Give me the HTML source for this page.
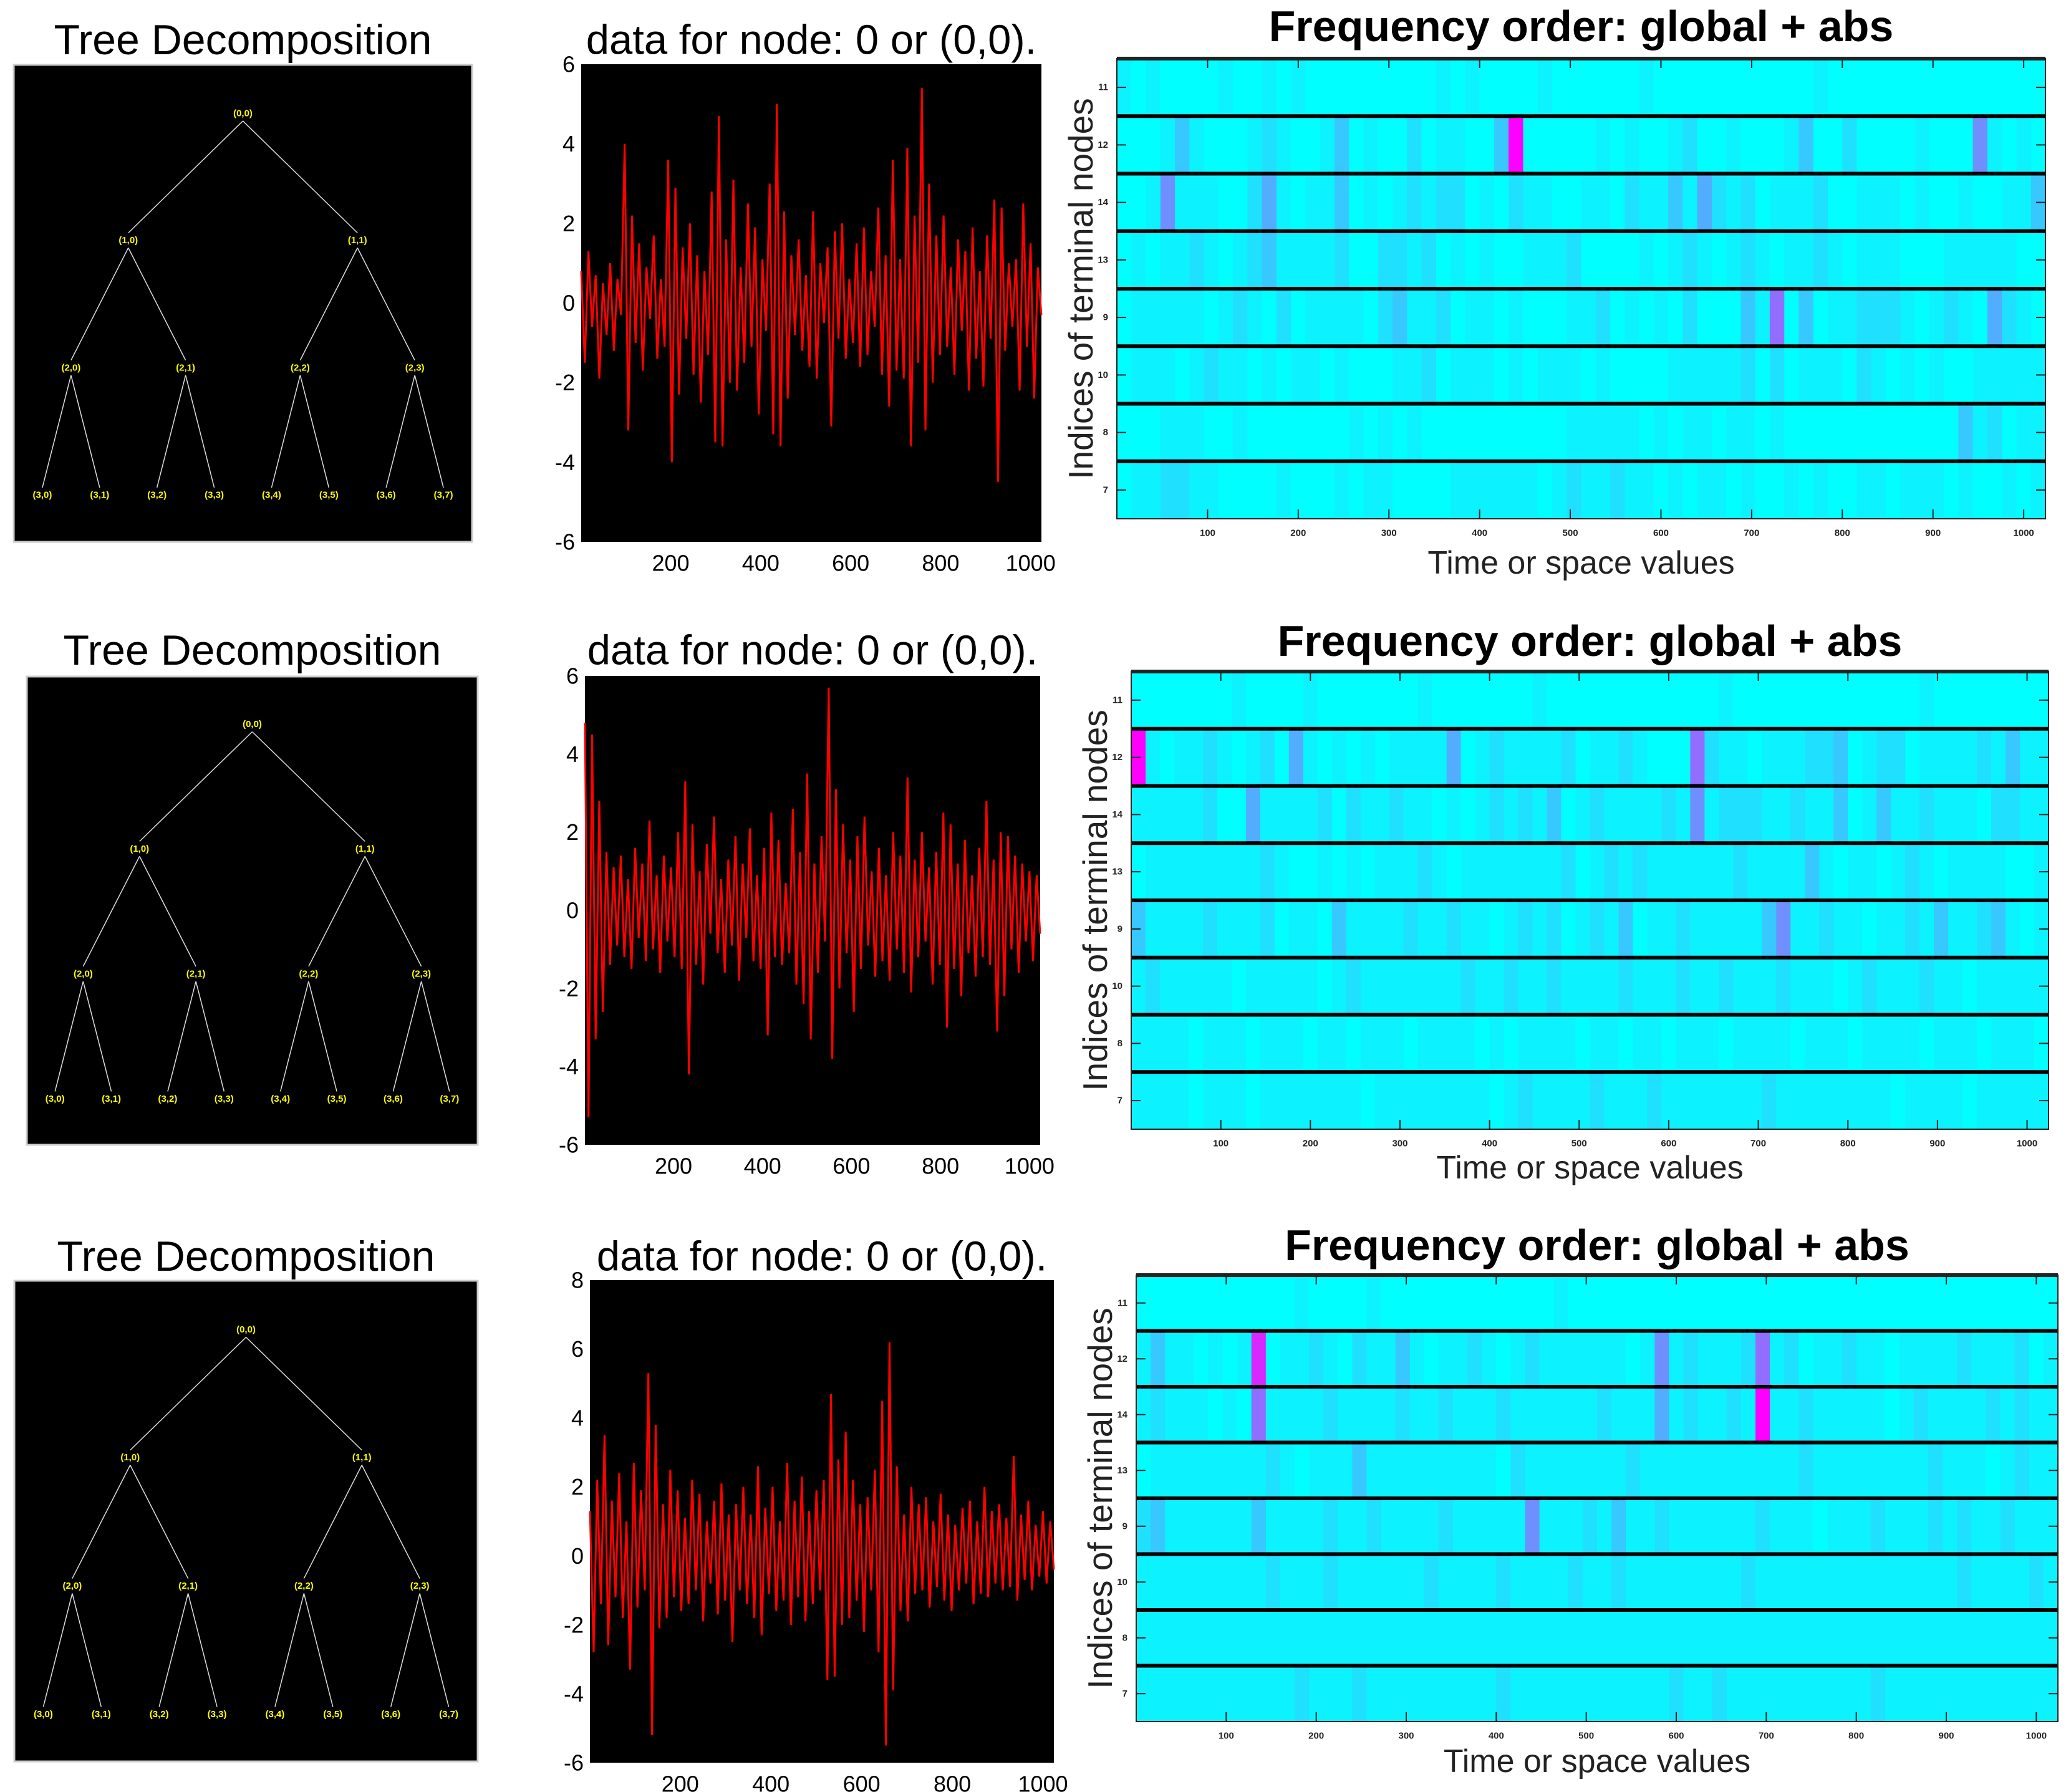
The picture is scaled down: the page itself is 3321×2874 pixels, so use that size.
<!DOCTYPE html>
<html><head><meta charset="utf-8"><style>
html,body{margin:0;padding:0;background:#fff;}
svg{display:block;font-family:"Liberation Sans",Arial,sans-serif;}
</style></head><body>
<svg id="root" width="3321" height="2874" viewBox="0 0 3321 2874" xmlns="http://www.w3.org/2000/svg"></svg>
<script>
// ---- data ----
const treeLevels = [["(0,0)"],["(1,0)","(1,1)"],["(2,0)","(2,1)","(2,2)","(2,3)"],["(3,0)","(3,1)","(3,2)","(3,3)","(3,4)","(3,5)","(3,6)","(3,7)"]];
const signalXTicks = [200,400,600,800,1000];
const signal1YTicks = [-6,-4,-2,0,2,4,6];
const signal3YTicks = [-6,-4,-2,0,2,4,6,8];
const signal1 = [0.8,-1.5,1.3,-0.6,0.7,-1.9,0.5,-0.8,1.0,-1.2,0.6,-0.3,4.0,-3.2,2.2,-1.0,1.5,-1.7,0.9,-0.4,1.7,-1.4,0.6,-1.1,3.6,-4.0,2.9,-2.3,1.4,-0.9,2.0,-1.8,1.2,-2.5,0.8,-1.3,2.8,-3.5,4.7,-3.6,1.6,-2.0,3.1,-2.2,0.9,-1.5,2.5,-1.1,1.9,-2.8,1.1,-0.7,3.0,-3.3,5.0,-3.6,2.3,-2.4,1.2,-0.8,1.6,-1.2,0.7,-1.6,2.3,-1.9,1.0,-0.5,1.4,-3.1,1.8,-0.9,2.0,-1.4,0.6,-1.0,1.5,-1.6,1.9,-1.3,0.8,-0.6,2.4,-1.8,1.2,-2.6,3.6,-1.7,1.1,-1.9,3.9,-3.6,2.2,-1.5,5.4,-3.2,3.0,-2.0,1.7,-1.3,2.2,-1.1,0.9,-1.8,1.6,-0.7,1.3,-2.2,1.9,-1.4,0.8,-2.1,1.7,-0.9,2.6,-4.5,2.4,-1.2,1.0,-0.6,1.1,-2.2,2.5,-1.1,1.5,-2.4,0.9,-0.3];
const signal2 = [4.8,-5.3,4.5,-3.3,2.8,-2.6,1.5,-1.4,1.1,-0.9,1.4,-1.2,0.8,-1.5,1.6,-0.7,1.2,-1.3,2.3,-1.0,0.9,-1.6,1.4,-0.8,1.1,-1.2,2.0,-1.5,3.3,-4.2,2.2,-1.4,1.0,-1.9,1.7,-0.6,2.4,-1.1,0.8,-1.6,1.3,-0.9,1.9,-1.8,1.2,-0.7,2.1,-1.3,0.9,-1.5,1.6,-3.2,2.5,-1.2,1.8,-1.4,0.7,-1.1,2.6,-1.9,1.5,-2.4,3.5,-3.3,1.2,-1.6,1.9,-0.8,5.7,-3.8,3.1,-2.0,2.2,-1.1,1.3,-2.6,1.9,-1.5,2.4,-0.9,1.0,-1.7,1.6,-1.3,0.9,-1.8,2.0,-1.0,1.4,-1.6,3.4,-2.1,1.3,-1.2,2.0,-0.8,1.1,-1.9,1.5,-1.4,2.5,-3.0,2.2,-1.5,1.2,-2.2,1.8,-1.1,0.9,-1.7,1.6,-1.2,2.8,-1.4,1.3,-3.1,2.0,-2.2,1.9,-1.0,1.4,-1.6,1.2,-0.8,1.0,-1.3,0.9,-0.6];
const signal3 = [1.3,-2.8,2.2,-1.4,3.5,-2.6,1.6,-1.2,2.4,-1.8,1.0,-3.3,2.7,-1.5,1.9,-1.0,5.3,-5.2,3.8,-2.1,1.5,-1.8,2.5,-1.2,1.9,-1.6,1.1,-1.4,2.2,-1.0,1.8,-1.9,1.0,-0.8,1.6,-1.7,2.1,-1.3,1.2,-2.5,1.5,-1.0,2.0,-1.4,1.2,-1.8,2.6,-2.3,1.4,-1.1,2.0,-1.6,1.0,-1.3,2.7,-2.0,1.6,-1.2,2.3,-1.9,1.3,-1.4,1.9,-1.0,2.2,-3.6,4.7,-3.5,2.8,-2.0,3.6,-1.8,2.2,-1.3,1.5,-2.2,1.7,-1.0,2.5,-2.8,4.5,-5.5,6.2,-3.9,2.6,-1.6,1.2,-1.9,2.0,-1.1,1.5,-1.0,1.7,-1.5,1.0,-0.9,1.8,-1.3,1.2,-1.6,0.9,-1.0,1.4,-0.8,1.6,-1.4,1.0,-1.1,2.0,-1.2,1.3,-0.8,1.5,-1.0,1.1,-0.9,2.9,-1.3,1.2,-0.7,1.6,-1.0,0.9,-0.6,1.3,-0.8,1.0,-0.4];
const heatRowLabels = ["11","12","14","13","9","10","8","7"];
const heatXTicks = [100,200,300,400,500,600,700,800,900,1000];
const heat1 = [
"1010000100101000000000101000010000001000000000001000000000000000",
"0001310001210013010020110039000001010012001000130020000100051010",
"0015111002410113010121220102110011021131421201112001110100100113",
"0101121012311112002212010100111200001012101210112101110001111100",
"0111110121020111102311201101000112010102000316030112221012104210",
"0111012110101101000112011101011101000011111202011102101010011111",
"0001110010000000101010000000000111110101101101000000000000312011",
"0112211000010001011000011111101211211010110100101001101110100101"];
const heat2 = [
"0000000100001000000010000000100000000000010000000000000100000000",
"9101121012041010101111401211112011210006211011122301220111121311",
"1111120041111202112110101212130121111215122211211301311211102211",
"0111111112100101011121011111112012121111112111131011012101111001",
"3111121112011031111211211012120121301121111135112110112131123101",
"1211111011111012111111121121121111211121121112111012111211011111",
"1111011101110110111011110101111011011011101111011101111011101110",
"1111011101111111011111111012111121112111111121111111101111011111"];
const heat3 = [
"0000000000010000100000000000010000000000000000000000000000000000",
"1311010180112102113101121012111111015121112612011211011112111201",
"1211101061111211112112111211111121114121121911211111012111121211",
"0111111112101113111111111021111111211111111111211111111211101211",
"2311111131111211211112111115111213112111111211101112111212112111",
"1111111112111211111121111211112112111111112111111111111112111121",
"1111111111111111111111111111111111111111111111111111111111111111",
"1111111111121112111111111211111111111211211111111112111111111111"];

// ---- layout ----
const NS = "http://www.w3.org/2000/svg";
const root = document.getElementById('root');
function mk(tag, attrs, parent){const e=document.createElementNS(NS,tag);for(const k in attrs)e.setAttribute(k,attrs[k]);(parent||root).appendChild(e);return e;}
function txt(s, attrs, parent){const e=mk('text',attrs,parent);e.textContent=s;return e;}

const rows = [
 {tree:[22,104,757,869], tt:64, sig:[932,103,1670,869], st:64, sy:[-6,6], syt:signal1YTicks, sdata:signal1, heat:[1791,94,3280,832], ht:42, hx:903, hdata:heat1},
 {tree:[43,1085,766,1836], tt:1043, sig:[938,1084,1668,1836], st:1043, sy:[-6,6], syt:signal1YTicks, sdata:signal2, heat:[1814,1077,3285,1811], ht:1028, hx:1873, hdata:heat2},
 {tree:[23,2054,766,2825], tt:2015, sig:[946,2053,1690,2827], st:2015, sy:[-6,8], syt:signal3YTicks, sdata:signal3, heat:[1822,2045,3300,2761], ht:1997, hx:2825, hdata:heat3}
];

function cool(v){return 'rgb('+Math.round(255*v)+','+Math.round(255*(1-v))+',255)';}

rows.forEach((r,ri)=>{
  // ---------- tree ----------
  const g = mk('g',{});
  
  
  const [tx0,ty0,tx1,ty1]=r.tree, tw=tx1-tx0, th=ty1-ty0;
  const tt = txt('Tree Decomposition',{x:(tx0+tx1)/2,y:r.tt,'text-anchor':'middle','dominant-baseline':'central','font-size':68,fill:'#000'},g);
  
  
  const box = mk('rect',{x:tx0,y:ty0,width:tw,height:th,fill:'#000',stroke:'#ccc','stroke-width':3},g);
  
  
  const ly=[0.102,0.368,0.635,0.902];
  const pos=(d,i)=>[tx0+tw*(i+0.5)/Math.pow(2,d), ty0+th*ly[d]];
  treeLevels.forEach((lv,d)=>{
    lv.forEach((lab,i)=>{
      const [x,y]=pos(d,i);
      if(d<3){
        [0,1].forEach(c=>{
          const [cx,cy]=pos(d+1,2*i+c);
          const ln=mk('line',{x1:x,y1:y+12,x2:cx,y2:cy-12,stroke:'#ddd','stroke-width':1.5},g);
          
          
        });
      }
      const t=txt(lab,{x:x,y:y,'text-anchor':'middle','dominant-baseline':'central','font-size':15,'font-weight':'bold',fill:'#ffff00'},g);
      
      
    });
  });

  // ---------- signal ----------
  const sg = mk('g',{});
  
  
  const [sx0,sy0,sx1,sy1]=r.sig;
  const st=txt('data for node: 0 or (0,0).',{x:(sx0+sx1)/2,y:r.st,'text-anchor':'middle','dominant-baseline':'central','font-size':67,fill:'#000'},sg);
  
  
  const sb=mk('rect',{x:sx0,y:sy0,width:sx1-sx0,height:sy1-sy0,fill:'#000'},sg);
  
  
  const xS=v=>sx0+(v-1)/1023*(sx1-sx0);
  const yS=v=>sy1-(v-r.sy[0])/(r.sy[1]-r.sy[0])*(sy1-sy0);
  r.syt.forEach(v=>{
    const t=txt(String(v),{x:sx0-10,y:yS(v),'text-anchor':'end','dominant-baseline':'central','font-size':36,fill:'#000'},sg);
    
    
  });
  signalXTicks.forEach(v=>{
    const t=txt(String(v),{x:xS(v),y:sy1+34,'text-anchor':'middle','dominant-baseline':'central','font-size':36,fill:'#000'},sg);
    
    
  });
  const n=r.sdata.length;
  const pts=r.sdata.map((v,i)=>xS(1+i*1023/(n-1)).toFixed(1)+','+yS(v).toFixed(1)).join(' ');
  const pl=mk('polyline',{points:pts,fill:'none',stroke:'#ff0000','stroke-width':3,'stroke-linejoin':'miter'},sg);
  
  

  // ---------- heatmap ----------
  const hg=mk('g',{});
  
  
  const [hx0,hy0,hx1,hy1]=r.heat, hw=hx1-hx0, hh=hy1-hy0, rh=hh/8;
  const ht=txt('Frequency order: global + abs',{x:(hx0+hx1)/2,y:r.ht,'text-anchor':'middle','dominant-baseline':'central','font-size':70,'font-weight':'bold',fill:'#000'},hg);
  
  
  r.hdata.forEach((row,k)=>{
    const cw=hw/row.length;
    for(let c=0;c<row.length;c++){
      const v=Math.pow(parseInt(row[c],10)/9,1.4);
      const cell=mk('rect',{x:(hx0+c*cw).toFixed(2),y:(hy0+k*rh).toFixed(2),width:(cw+0.8).toFixed(2),height:rh.toFixed(2),fill:cool(v)},hg);
      
      
    }
  });
  for(let k=1;k<8;k++){
    const ln=mk('line',{x1:hx0,x2:hx1,y1:hy0+k*rh,y2:hy0+k*rh,stroke:'#000','stroke-width':6},hg);
    
    
  }
  const fr=mk('rect',{x:hx0,y:hy0,width:hw,height:hh,fill:'none',stroke:'#222','stroke-width':2},hg);
  
  
  mk('line',{x1:hx0,x2:hx1,y1:hy0,y2:hy0,stroke:'#222','stroke-width':6},hg);
  const hxS=v=>hx0+v/1024*hw;
  heatXTicks.forEach(v=>{
    mk('line',{x1:hxS(v),x2:hxS(v),y1:hy1,y2:hy1-15,stroke:'#222','stroke-width':2},hg);
    mk('line',{x1:hxS(v),x2:hxS(v),y1:hy0,y2:hy0+15,stroke:'#222','stroke-width':2},hg);
    const t=txt(String(v),{x:hxS(v),y:hy1+23,'text-anchor':'middle','dominant-baseline':'central','font-size':15,'font-weight':'bold',fill:'#222'},hg);
    
    
  });
  heatRowLabels.forEach((lab,k)=>{
    const y=hy0+(k+0.5)*rh;
    mk('line',{x1:hx0,x2:hx0+15,y1:y,y2:y,stroke:'#222','stroke-width':2},hg);
    mk('line',{x1:hx1,x2:hx1-15,y1:y,y2:y,stroke:'#222','stroke-width':2},hg);
    const t=txt(lab,{x:hx0-14,y:y,'text-anchor':'end','dominant-baseline':'central','font-size':15,'font-weight':'bold',fill:'#222'},hg);
    
    
  });
  const xl=txt('Time or space values',{x:(hx0+hx1)/2,y:r.hx,'text-anchor':'middle','dominant-baseline':'central','font-size':52,fill:'#222'},hg);
  
  
  const yx=hx0-58, yy=(hy0+hy1)/2;
  const yl=txt('Indices of terminal nodes',{x:yx,y:yy,'text-anchor':'middle','dominant-baseline':'central','font-size':55,fill:'#222',transform:'rotate(-90 '+yx+' '+yy+')'},hg);
  
  
});
</script>
</body></html>
